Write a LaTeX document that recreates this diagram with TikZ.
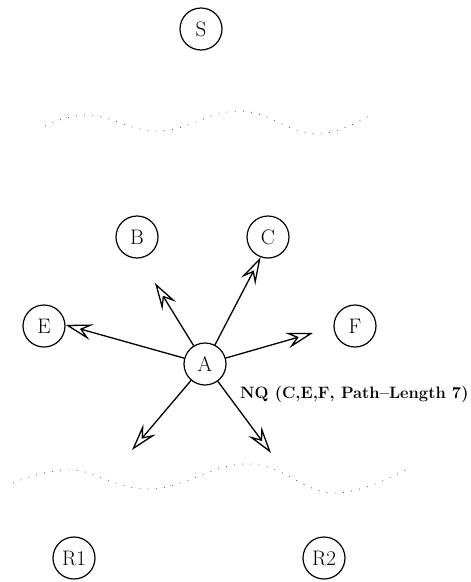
\documentclass[tikz,border=0pt]{standalone}
\usetikzlibrary{arrows.meta}
\begin{document}
\begin{tikzpicture}[x=1pt,y=-1pt,
  nd/.style={circle,draw,line width=1.2pt,minimum size=42pt,inner sep=0pt,font=\fontsize{21}{23}\selectfont},
  arr/.style={line width=1.3pt,-{Stealth[open,length=27pt,width=16pt,inset=10pt,line width=1.3pt]}},
  wave/.style={line width=0.8pt,black!70,dash pattern=on 0.8pt off 7.4pt}]
\useasboundingbox (0,0) rectangle (471,582);
\node[nd] (S) at (201,29) {S};
\node[nd] (B) at (137,237) {B};
\node[nd] (C) at (268,237) {C};
\node[nd] (E) at (44,326) {E};
\node[nd] (F) at (355,326) {F};
\node[nd] (A) at (205,364) {A};
\node[nd] (R1) at (74,558) {R1};
\node[nd] (R2) at (324,558) {R2};
\coordinate (tB) at (155,283);
\coordinate (tF) at (313,333);
\coordinate (tL) at (132,450);
\coordinate (tR) at (271,453);
\draw[arr] (A) -- (C.250);
\draw[arr] (A) -- (E.3);
\draw[arr] (A) -- (tB);
\draw[arr] (A) -- (tF);
\draw[arr] (A) -- (tL);
\draw[arr] (A) -- (tR);
\node[font=\bfseries\fontsize{16.5}{19}\selectfont,anchor=base west,inner sep=0pt] (lab) at (240,398) {NQ (C,E,F, Path--Length 7)};
\draw[wave] plot[smooth,tension=0.7] coordinates {(45,126) (90,115) (160,131) (240,111) (315,134) (372,114)};
\draw[wave] plot[smooth,tension=0.7] coordinates {(13,483) (72,470) (151,489) (249,464) (334,493) (411,467)};
\end{tikzpicture}
\end{document}
